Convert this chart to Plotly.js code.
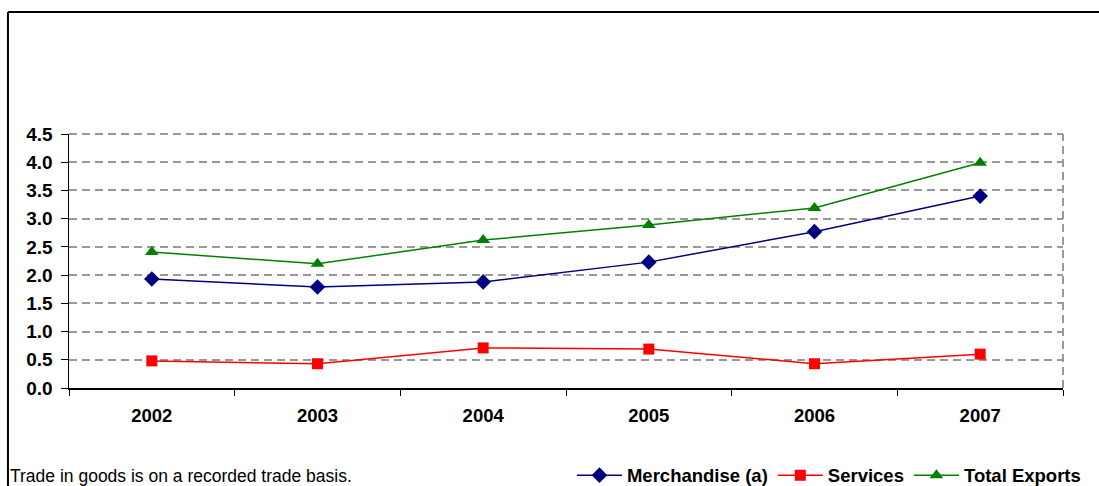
<!DOCTYPE html>
<html>
<head>
<meta charset="utf-8">
<script src="https://cdn.plot.ly/plotly-3.0.1.min.js"></script>
<style>
html,body{margin:0;padding:0;background:#fff;}
#chart{width:1099px;height:486px;}
</style>
</head>
<body>
<div id="chart"></div>
<script>
const years = ['2002', '2003', '2004', '2005', '2006', '2007'];
const merchandise = [1.93, 1.79, 1.88, 2.23, 2.77, 3.40];
const services = [0.48, 0.43, 0.71, 0.69, 0.43, 0.60];
const totalExports = [2.41, 2.20, 2.62, 2.89, 3.19, 3.99];
const yTicks = [0, 0.5, 1, 1.5, 2, 2.5, 3, 3.5, 4, 4.5];
const footnote = 'Trade in goods is on a recorded trade basis.';

const font = {family: 'Arial, "Liberation Sans", sans-serif', color: '#000'};
const gridColor = '#999999';
const gridDash = '8px,5px';

const traces = [
  {x: years, y: merchandise, name: '<b>Merchandise (a)</b>', type: 'scatter', mode: 'lines+markers',
   line: {color: '#000080', width: 1.5}, marker: {symbol: 'diamond', size: 12, color: '#000080'}},
  {x: years, y: services, name: '<b>Services</b>', type: 'scatter', mode: 'lines+markers',
   line: {color: '#ff0000', width: 1.5}, marker: {symbol: 'square', size: 11, color: '#ff0000'}},
  {x: years, y: totalExports, name: '<b>Total Exports</b>', type: 'scatter', mode: 'lines+markers',
   line: {color: '#008000', width: 1.5}, marker: {symbol: 'triangle-up', size: 12, color: '#008000'}}
];

const layout = {
  width: 1099, height: 486,
  margin: {l: 69, r: 36, t: 134, b: 98, autoexpand: false},
  paper_bgcolor: '#fff', plot_bgcolor: '#fff',
  font: Object.assign({size: 15}, font),
  showlegend: true,
  legend: {orientation: 'h', x: 0.506, xanchor: 'left', y: -0.345, yanchor: 'middle',
           font: Object.assign({size: 18.5}, font), itemwidth: 45, tracegroupgap: 0,
           bgcolor: 'rgba(0,0,0,0)'},
  xaxis: {type: 'category', range: [-0.5, 5.5], tickson: 'boundaries', ticks: 'outside', ticklen: 6,
          tickcolor: '#000', showline: true, linecolor: '#000', linewidth: 1.5, showgrid: false,
          tickfont: Object.assign({size: 18.5}, font), tickprefix: '<b>', ticksuffix: '</b>',
          ticklabelstandoff: 10, fixedrange: true},
  yaxis: {range: [0, 4.5], tickvals: yTicks, ticktext: yTicks.map(v => '<b>' + v.toFixed(1) + '</b>'),
          ticks: 'outside', ticklen: 7, tickcolor: '#000', showline: true, linecolor: '#000', linewidth: 1.5,
          showgrid: true, gridcolor: gridColor, gridwidth: 2, griddash: gridDash, zeroline: false,
          tickfont: Object.assign({size: 19}, font), ticklabelstandoff: 4, fixedrange: true},
  shapes: [
    {type: 'line', xref: 'paper', yref: 'paper', x0: 0, x1: 1, y0: 1, y1: 1, layer: 'below',
     line: {color: gridColor, width: 2, dash: gridDash}},
    {type: 'line', xref: 'paper', yref: 'paper', x0: 1, x1: 1, y0: 0, y1: 1,
     line: {color: gridColor, width: 2, dash: gridDash}},
    {type: 'line', xref: 'paper', yref: 'paper', x0: -0.0614, x1: -0.0614, y0: 1.48, y1: -0.40,
     line: {color: '#000', width: 2}},
    {type: 'line', xref: 'paper', yref: 'paper', x0: -0.0614, x1: 1.04, y0: 1.48, y1: 1.48,
     line: {color: '#000', width: 2}}
  ],
  annotations: [
    {text: footnote, xref: 'paper', yref: 'paper', x: -0.0614, y: -0.348, xanchor: 'left', yanchor: 'middle',
     showarrow: false, font: Object.assign({size: 17.5}, font)}
  ]
};

Plotly.newPlot('chart', traces, layout, {displayModeBar: false, staticPlot: true});
</script>
</body>
</html>
